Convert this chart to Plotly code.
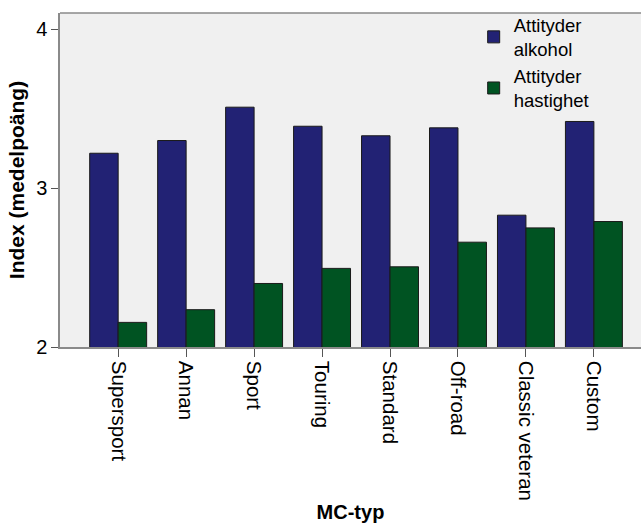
import plotly.graph_objects as go

# MC-typ categories and mean index per attitude
categories = ["Supersport", "Annan", "Sport", "Touring", "Standard",
              "Off-road", "Classic veteran", "Custom"]
alkohol = [3.22, 3.30, 3.51, 3.39, 3.33, 3.38, 2.83, 3.42]
hastighet = [2.155, 2.235, 2.40, 2.495, 2.505, 2.66, 2.75, 2.79]
y_ticks = [2, 3, 4]

font = "Liberation Sans, Arial, sans-serif"

fig = go.Figure()
fig.add_trace(go.Bar(
    x=categories, y=alkohol, name="Attityder<br>alkohol",
    marker=dict(color="rgb(34,34,116)", line=dict(color="#1a1a1a", width=1)),
))
fig.add_trace(go.Bar(
    x=categories, y=hastighet, name="Attityder<br>hastighet",
    marker=dict(color="rgb(0,83,34)", line=dict(color="#1a1a1a", width=1)),
))

# frame line along the top of the plot area (no right edge in the original)
fig.add_shape(type="line", xref="paper", yref="paper", x0=0, x1=1.02, y0=1, y1=1,
              line=dict(color="#8a8a8a", width=1.5))

fig.update_layout(
    width=641, height=523,
    margin=dict(l=60, r=0, t=13, b=176),
    paper_bgcolor="white",
    plot_bgcolor="rgb(240,240,240)",
    barmode="group",
    bargap=0.162,
    bargroupgap=0,
    font=dict(family=font, color="black", size=20),
    legend=dict(
        x=0.712, y=1.02, xanchor="left", yanchor="top",
        bgcolor="rgba(0,0,0,0)",
        font=dict(size=18.5, family=font),
        tracegroupgap=0,
        itemwidth=30,
    ),
    xaxis=dict(
        range=[-0.856, 7.693],
        automargin=False,
        showline=True, linecolor="#8a8a8a", linewidth=1.5,
        ticks="outside", ticklen=8, tickcolor="#555555",
        tickangle=90,
        tickfont=dict(size=20.5),
        showgrid=False,
        title=dict(text="<b>MC-typ</b>", font=dict(size=20), standoff=12),
    ),
    yaxis=dict(
        range=[2, 4.103],
        automargin=False,
        tickvals=y_ticks,
        showline=True, linecolor="#8a8a8a", linewidth=1.5,
        ticks="outside", ticklen=7, tickcolor="#555555",
        tickfont=dict(size=20),
        showgrid=False, zeroline=False,
        title=dict(text="<b>Index (medelpoäng)</b>", font=dict(size=21), standoff=6),
    ),
)

# page body has a default 8px margin; drop it so the figure fills the window
fig.write_html("out.html",
               config={"displayModeBar": False},
               post_script="document.body.style.margin='0';document.body.style.overflow='hidden';")
